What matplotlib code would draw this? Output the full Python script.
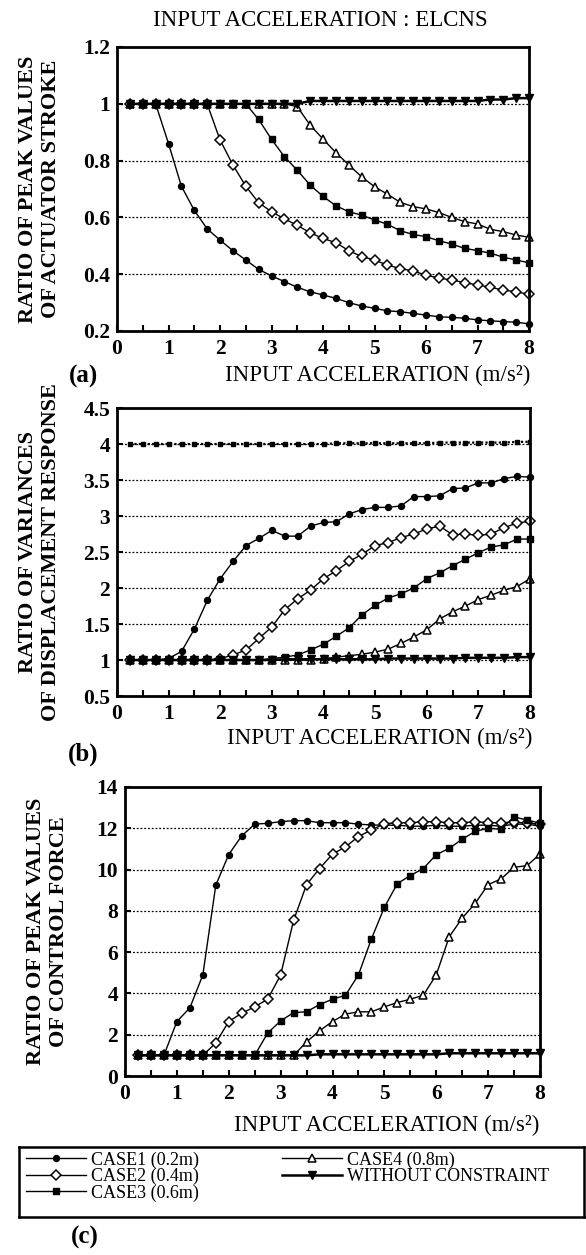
import numpy as np
import matplotlib
matplotlib.use('Agg')
import matplotlib.pyplot as plt
from matplotlib.ticker import MultipleLocator

plt.rcParams['font.family'] = ['Liberation Serif', 'DejaVu Serif']

# input acceleration (m/s^2)
accel = [0.25, 0.5, 0.75, 1.0, 1.25, 1.5, 1.75, 2.0, 2.25, 2.5, 2.75, 3.0,
         3.25, 3.5, 3.75, 4.0, 4.25, 4.5, 4.75, 5.0, 5.25, 5.5, 5.75, 6.0,
         6.25, 6.5, 6.75, 7.0, 7.25, 7.5, 7.75, 8.0]

labels = ['CASE1 (0.2m)', 'CASE2 (0.4m)', 'CASE3 (0.6m)', 'CASE4 (0.8m)',
          'WITHOUT CONSTRAINT']

# (a) ratio of peak values of actuator stroke
case1_a = [1.0, 1.0, 1.0, 0.86, 0.71, 0.625, 0.56, 0.52, 0.483, 0.45, 0.417, 0.394,
           0.374, 0.354, 0.338, 0.327, 0.315, 0.30, 0.288, 0.28, 0.271, 0.268, 0.262,
           0.256, 0.25, 0.248, 0.245, 0.239, 0.236, 0.233, 0.231, 0.225]
case2_a = [1.0, 1.0, 1.0, 1.0, 1.0, 1.0, 1.0, 0.873, 0.785, 0.71, 0.652, 0.62,
           0.595, 0.572, 0.546, 0.526, 0.511, 0.483, 0.462, 0.45, 0.432, 0.42, 0.411,
           0.397, 0.386, 0.38, 0.37, 0.362, 0.354, 0.344, 0.338, 0.329]
case3_a = [1.0, 1.0, 1.0, 1.0, 1.0, 1.0, 1.0, 1.0, 1.0, 1.0, 0.945, 0.875,
           0.814, 0.766, 0.714, 0.674, 0.641, 0.62, 0.608, 0.591, 0.576, 0.553, 0.54,
           0.532, 0.518, 0.506, 0.491, 0.483, 0.474, 0.46, 0.45, 0.44]
case4_a = [1.0, 1.0, 1.0, 1.0, 1.0, 1.0, 1.0, 1.0, 1.0, 1.0, 1.0, 1.0,
           1.0, 0.99, 0.925, 0.876, 0.828, 0.785, 0.743, 0.708, 0.682, 0.653, 0.638,
           0.63, 0.617, 0.60, 0.585, 0.577, 0.558, 0.55, 0.538, 0.53]
wc_a = [1.0, 1.0, 1.0, 1.0, 1.0, 1.0, 1.0, 1.0, 1.0, 1.0, 1.0, 1.0, 1.0, 1.0,
        1.01, 1.01, 1.01, 1.01, 1.01, 1.01, 1.01, 1.01, 1.01, 1.01, 1.01, 1.01,
        1.01, 1.01, 1.015, 1.015, 1.02, 1.02]

# (b) ratio of variances of displacement response
case1_b = [1.0, 1.0, 1.0, 1.02, 1.12, 1.43, 1.83, 2.13, 2.37, 2.59, 2.69, 2.80,
           2.72, 2.72, 2.86, 2.91, 2.92, 3.03, 3.09, 3.12, 3.12, 3.14, 3.27, 3.27,
           3.28, 3.38, 3.39, 3.46, 3.46, 3.52, 3.55, 3.54]
case2_b = [1.0, 1.0, 1.0, 1.0, 1.0, 1.0, 1.0, 1.02, 1.07, 1.14, 1.30, 1.46,
           1.70, 1.85, 1.97, 2.13, 2.24, 2.37, 2.47, 2.59, 2.63, 2.70, 2.75, 2.82,
           2.86, 2.74, 2.75, 2.73, 2.75, 2.84, 2.90, 2.93]
case3_b = [1.0, 1.0, 1.0, 1.0, 1.0, 1.0, 1.0, 1.0, 1.0, 1.0, 1.0, 1.02,
           1.04, 1.07, 1.14, 1.22, 1.33, 1.45, 1.63, 1.76, 1.86, 1.92, 2.0, 2.13,
           2.21, 2.31, 2.40, 2.49, 2.57, 2.60, 2.68, 2.68]
case4_b = [1.0, 1.0, 1.0, 1.0, 1.0, 1.0, 1.0, 1.0, 1.0, 1.0, 1.0, 1.0,
           1.0, 1.0, 1.0, 1.02, 1.04, 1.06, 1.08, 1.11, 1.15, 1.23, 1.32, 1.42,
           1.57, 1.67, 1.75, 1.84, 1.90, 1.97, 2.02, 2.13]
wc_b = [1.0, 1.0, 1.0, 1.0, 1.0, 1.0, 1.0, 1.0, 1.0, 1.0, 1.0, 1.0,
        1.01, 1.01, 1.01, 1.01, 1.01, 1.01, 1.01, 1.01, 1.02, 1.02, 1.02, 1.02,
        1.02, 1.02, 1.03, 1.03, 1.03, 1.03, 1.04, 1.04]
upper_b = [4.0, 4.0, 4.0, 4.0, 4.0, 4.0, 4.0, 4.0, 4.0, 4.0, 4.0, 4.0, 4.0, 4.0,
           4.0, 4.0, 4.01, 4.01, 4.01, 4.01, 4.01, 4.01, 4.01, 4.01, 4.02, 4.02,
           4.02, 4.02, 4.02, 4.02, 4.03, 4.03]

# (c) ratio of peak values of control force
case1_c = [1.0, 1.0, 1.0, 2.64, 3.30, 4.89, 9.24, 10.73, 11.63, 12.2, 12.24, 12.32,
           12.37, 12.37, 12.27, 12.27, 12.27, 12.2, 12.16, 12.15, 12.15, 12.1, 12.1,
           12.15, 12.1, 12.1, 12.15, 12.15, 12.1, 12.2, 12.2, 12.1]
case2_c = [1.0, 1.0, 1.0, 1.0, 1.0, 1.0, 1.60, 2.64, 3.04, 3.35, 3.72, 4.89,
           7.54, 9.27, 10.05, 10.75, 11.1, 11.6, 11.92, 12.22, 12.27, 12.27, 12.32,
           12.32, 12.27, 12.27, 12.32, 12.27, 12.27, 12.3, 12.25, 12.2]
case3_c = [1.0, 1.0, 1.0, 1.0, 1.0, 1.0, 1.0, 1.0, 1.0, 1.0, 2.08, 2.67,
           3.07, 3.11, 3.46, 3.72, 3.91, 4.90, 6.64, 8.17, 9.32, 9.71, 10.05,
           10.72, 11.03, 11.47, 11.85, 12.0, 11.95, 12.55, 12.4, 12.25]
case4_c = [1.0, 1.0, 1.0, 1.0, 1.0, 1.0, 1.0, 1.0, 1.0, 1.0, 1.0, 1.0,
           1.0, 1.65, 2.19, 2.64, 3.0, 3.11, 3.11, 3.35, 3.56, 3.72, 3.91, 4.90,
           6.74, 7.65, 8.36, 9.27, 9.55, 10.11, 10.19, 10.75]
wc_c = [1.0, 1.0, 1.0, 1.0, 1.0, 1.0, 1.0, 1.0, 1.0, 1.0, 1.0, 1.0, 1.0, 1.0,
        1.05, 1.05, 1.05, 1.05, 1.05, 1.05, 1.05, 1.05, 1.05, 1.05,
        1.1, 1.1, 1.1, 1.1, 1.1, 1.1, 1.1, 1.1]

xticks = [0, 1, 2, 3, 4, 5, 6, 7, 8]
yticks_a = [0.2, 0.4, 0.6, 0.8, 1.0, 1.2]
ylabels_a = ['0.2', '0.4', '0.6', '0.8', '1', '1.2']
yticks_b = [0.5, 1, 1.5, 2, 2.5, 3, 3.5, 4, 4.5]
ylabels_b = ['0.5', '1', '1.5', '2', '2.5', '3', '3.5', '4', '4.5']
yticks_c = [0, 2, 4, 6, 8, 10, 12, 14]
ylabels_c = ['0', '2', '4', '6', '8', '10', '12', '14']

styles = [
    dict(marker='o', ms=4.3, mfc='black', mec='black', lw=1.0, zorder=3),
    dict(marker='D', ms=4.8, mfc='white', mec='black', mew=1.1, lw=1.0, zorder=3),
    dict(marker='s', ms=4.8, mfc='black', mec='black', lw=1.0, zorder=5),
    dict(marker='^', ms=6.0, mfc='white', mec='black', mew=1.1, lw=1.0, zorder=2),
    dict(marker='v', ms=6.0, mfc='black', mec='black', lw=1.8, zorder=4),
]

W, H = 586, 1255
fig = plt.figure(figsize=(W / 100, H / 100), dpi=100)


def box(l, t, r, b):
    return [l / W, 1 - b / H, (r - l) / W, (b - t) / H]


def setup(ax, ylim, yticks, ylabels, ylabel, ylab_x):
    ax.set_xlim(0, 8)
    ax.set_ylim(*ylim)
    ax.set_xticks(xticks, labels=[str(t) for t in xticks], fontweight='bold')
    ax.set_yticks(yticks, labels=ylabels, fontweight='bold')
    ax.xaxis.set_minor_locator(MultipleLocator(0.5))
    ax.tick_params(which='both', direction='in', length=4, width=1.5,
                   labelsize=15.5, top=False, right=False)
    ax.tick_params(axis='x', pad=6)
    ax.tick_params(axis='y', pad=5)
    for s in ax.spines.values():
        s.set_linewidth(2)
        s.set_zorder(6)
    ax.yaxis.grid(True, linestyle=(0, (1.5, 1.5)), color='black', lw=0.9)
    ax.set_ylabel(ylabel, fontsize=16, fontweight='bold', linespacing=1.2)
    ax.yaxis.set_label_coords(ylab_x, 0.5)


def draw(ax, series):
    lines = []
    for vals, st, lab in zip(series, styles, labels):
        ln, = ax.plot(accel, vals, color='black', label=lab, clip_on=False, **st)
        lines.append(ln)
    return lines


fig.text(320 / W, 1 - 20 / H, 'INPUT ACCELERATION : ELCNS', fontsize=16.5,
         ha='center', va='center')

ax_a = fig.add_axes(box(117, 47, 529, 331))
draw(ax_a, [case1_a, case2_a, case3_a, case4_a, wc_a])
setup(ax_a, (0.2, 1.2), yticks_a, ylabels_a,
      'RATIO OF PEAK VALUES\nOF ACTUATOR STROKE', -0.135)

ax_b = fig.add_axes(box(117, 408, 530, 696))
ax_b.plot(accel, upper_b, color='black', linestyle=(0, (1, 1)), lw=1.6,
          marker='s', ms=2.6)
draw(ax_b, [case1_b, case2_b, case3_b, case4_b, wc_b])
setup(ax_b, (0.5, 4.5), yticks_b, ylabels_b,
      'RATIO OF VARIANCES\nOF DISPLACEMENT RESPONSE', -0.135)

ax_c = fig.add_axes(box(125, 787, 540, 1076))
handles = draw(ax_c, [case1_c, case2_c, case3_c, case4_c, wc_c])
setup(ax_c, (0, 14), yticks_c, ylabels_c,
      'RATIO OF PEAK VALUES\nOF CONTROL FORCE', -0.135)

xlab = 'INPUT ACCELERATION (m/s²)'
fig.text(530 / W, 1 - 375 / H, xlab, fontsize=16.5, ha='right', va='center')
fig.text(532 / W, 1 - 738 / H, xlab, fontsize=16.5, ha='right', va='center')
fig.text(539 / W, 1 - 1125 / H, xlab, fontsize=16.5, ha='right', va='center')

fig.text(83 / W, 1 - 376 / H, '(a)', fontsize=18, fontweight='bold',
         ha='center', va='center')
fig.text(83 / W, 1 - 754 / H, '(b)', fontsize=18, fontweight='bold',
         ha='center', va='center')
fig.text(85 / W, 1 - 1237 / H, '(c)', fontsize=18, fontweight='bold',
         ha='center', va='center')

leg_ax = fig.add_axes(box(19, 1147, 584, 1217))
leg_ax.set_xticks([])
leg_ax.set_yticks([])
for s in leg_ax.spines.values():
    s.set_linewidth(1.8)
leg_ax.legend(handles, labels, loc='upper left', bbox_to_anchor=(0.0, 1.04),
              ncol=2, frameon=False, fontsize=13, handlelength=3.3,
              handletextpad=0.3, columnspacing=4.6, labelspacing=-0.05,
              borderpad=0.2, borderaxespad=0.2)

fig.savefig('out.png', dpi=100)
